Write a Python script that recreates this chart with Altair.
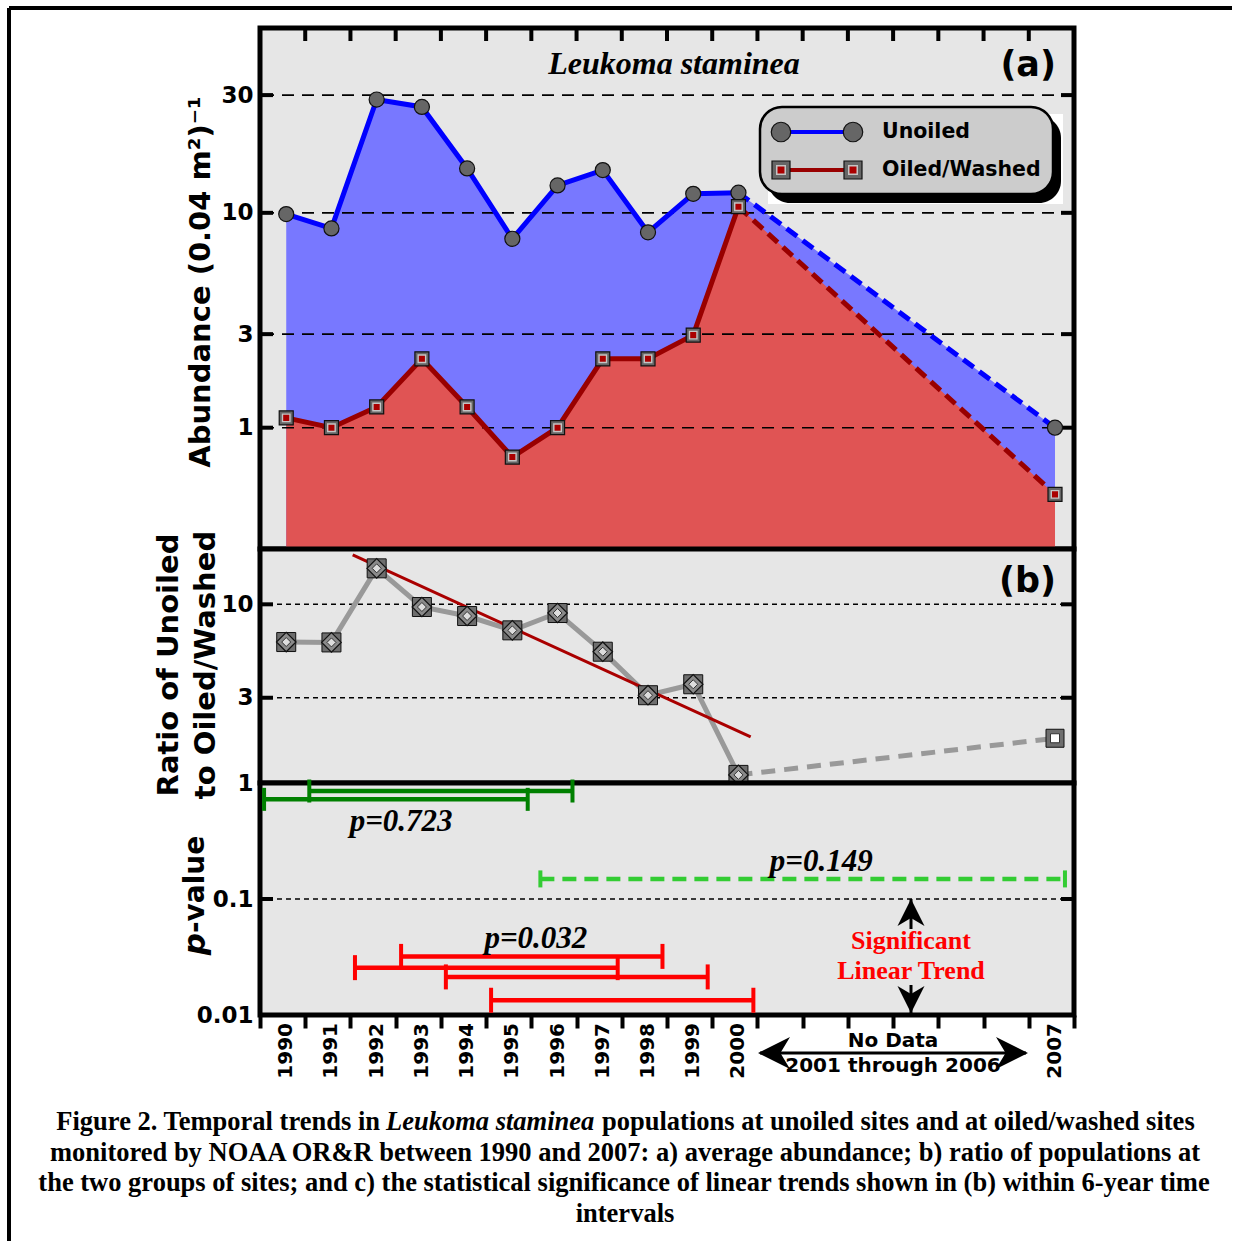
import altair as alt
import pandas as pd

# ------------------------------------------------------------------ data
years = [1990, 1991, 1992, 1993, 1994, 1995, 1996, 1997, 1998, 1999, 2000, 2007]
unoiled = [9.88, 8.62, 28.8, 26.9, 15.2, 7.8, 12.96, 14.96, 8.3, 11.97, 12.1, 1.0]
oiled = [1.14, 1.0, 1.31, 2.3, 1.31, 0.65, 1.0, 2.3, 2.3, 2.97, 10.6, 0.32]
ratio = [6.15, 6.12, 15.9, 9.66, 8.6, 7.15, 8.94, 5.43, 3.1, 3.57, 1.11, 1.78]
trend_year = [1991.47, 2000.27]
trend_ratio = [18.9, 1.81]
win_start = [1989.51, 1990.51, 1995.62, 1991.52, 1992.54, 1993.53, 1994.53]
win_end = [1995.34, 1996.33, 2007.22, 1997.33, 1998.32, 1999.32, 2000.33]
win_p = [0.723, 0.853, 0.149, 0.0256, 0.032, 0.0213, 0.0134]
win_group = ["dark", "dark", "light", "red", "red", "red", "red"]
p_text = ["p=0.723", "p=0.149", "p=0.032"]
p_text_year = [1992.54, 2001.83, 1995.52]
p_text_p = [0.386, 0.174, 0.038]
year_labels = [1990, 1991, 1992, 1993, 1994, 1995, 1996, 1997, 1998, 1999, 2000, 2007]
tick_years = [1989.42, 1990.42, 1991.42, 1992.42, 1993.42, 1994.42, 1995.42,
              1996.42, 1997.42, 1998.42, 1999.42, 2000.42, 2001.42, 2002.42,
              2003.42, 2004.42, 2005.42, 2006.42, 2007.42]
top_ticks = tick_years[1:-1]
abund_ticks = [1, 3, 10, 30]
ratio_ticks = [1, 3, 10]
ratio_grid = [3, 10]
p_ticks = [0.01, 0.1]
p_grid = [0.1]
caption_1a = "Figure 2. Temporal trends in"
caption_1b = "Leukoma staminea"
caption_1c = "populations at unoiled sites and at oiled/washed sites"
caption_2 = "monitored by NOAA OR&R between 1990 and 2007: a) average abundance; b) ratio of populations at"
caption_3 = "the two groups of sites; and c) the statistical significance of linear trends shown in (b) within 6-year time"
caption_4 = "intervals"

# ------------------------------------------------------------------ setup
W, HA, HB, HC = 814, 521, 234, 232
SANS = "DejaVu Sans"
SERIF = "Liberation Serif"
one = pd.DataFrame({"a": [0]})

xs = alt.Scale(domain=[1989.42, 2007.42], nice=False, zero=False)
ya = alt.Scale(type="symlog", constant=0.5, domain=[0, 55.5], nice=False)
yb = alt.Scale(type="log", domain=[1, 20.4], nice=False)
yc = alt.Scale(type="log", domain=[0.01, 1], nice=False)


def yaxis(values):
    return alt.Axis(values=values, ticks=False, tickSize=0, domain=False, grid=False,
                    title=None, labelFont=SANS, labelFontSize=23, labelFontWeight="bold",
                    labelColor="black", labelPadding=7, labelExpr="'' + datum.value")


ax_a, ax_b, ax_c = yaxis(abund_ticks), yaxis(ratio_ticks), yaxis(p_ticks)
ax_x = alt.Axis(values=tick_years, labels=False, ticks=True, tickSize=13, tickWidth=4,
                tickColor="black", domain=False, grid=False, title=None, orient="bottom")


def XN(f):
    return alt.X(f, type="quantitative", scale=xs, axis=None)


def XC(f):
    return alt.X(f, type="quantitative", scale=xs, axis=ax_x)


def YA(f):
    return alt.Y(f, type="quantitative", scale=ya, axis=ax_a)


def YB(f):
    return alt.Y(f, type="quantitative", scale=yb, axis=ax_b)


def YC(f):
    return alt.Y(f, type="quantitative", scale=yc, axis=ax_c)


def text_at(txt, x, y, **kw):
    return alt.Chart(one).mark_text(text=txt, **kw).encode(x=alt.value(x), y=alt.value(y))


def hrule(x1, x2, y, **kw):
    return alt.Chart(one).mark_rule(**kw).encode(x=alt.value(x1), x2=alt.value(x2), y=alt.value(y))


def vrule(x, y1, y2, **kw):
    return alt.Chart(one).mark_rule(**kw).encode(x=alt.value(x), y=alt.value(y1), y2=alt.value(y2))


def rect_at(x1, x2, y1, y2, **kw):
    return alt.Chart(one).mark_rect(**kw).encode(
        x=alt.value(x1), x2=alt.value(x2), y=alt.value(y1), y2=alt.value(y2))


def pt(x, y, **kw):
    return alt.Chart(one).mark_point(filled=True, opacity=1, **kw).encode(
        x=alt.value(x), y=alt.value(y))


bold_sans = dict(font=SANS, fontWeight="bold", color="black")
ARROW = "M0,-1L1,1L0,0.4L-1,1Z"

# ------------------------------------------------------------------ panel (a)
dfa = pd.DataFrame({"year": years, "unoiled": unoiled, "oiled": oiled})
ca = alt.Chart(dfa)
grid_a = alt.Chart(pd.DataFrame({"v": abund_ticks}))
tt = alt.Chart(pd.DataFrame({"t": top_ticks}))

panel_a = alt.layer(
    ca.mark_area(color="#7878ff", opacity=1).encode(x=XN("year"), y=YA("unoiled")),
    ca.mark_area(color="#e05454", opacity=1).encode(x=XN("year"), y=YA("oiled")),
    grid_a.mark_rule(color="black", strokeWidth=1.6, strokeDash=[12, 8]).encode(y=YA("v")),
    grid_a.mark_rule(color="black", strokeWidth=4).encode(y=YA("v"), x=alt.value(0), x2=alt.value(13)),
    grid_a.mark_rule(color="black", strokeWidth=4).encode(y=YA("v"), x=alt.value(W - 13), x2=alt.value(W)),
    tt.mark_rule(color="black", strokeWidth=4).encode(x=XN("t"), y=alt.value(0), y2=alt.value(13)),
    ca.transform_filter("datum.year <= 2000").mark_line(color="#0000ff", strokeWidth=5).encode(
        x=XN("year"), y=YA("unoiled")),
    ca.transform_filter("datum.year >= 2000").mark_line(color="#0000ff", strokeWidth=5,
                                                         strokeDash=[13, 7]).encode(
        x=XN("year"), y=YA("unoiled")),
    ca.transform_filter("datum.year <= 2000").mark_line(color="#990000", strokeWidth=5).encode(
        x=XN("year"), y=YA("oiled")),
    ca.transform_filter("datum.year >= 2000").mark_line(color="#990000", strokeWidth=5,
                                                         strokeDash=[13, 7]).encode(
        x=XN("year"), y=YA("oiled")),
    ca.mark_point(shape="circle", filled=True, size=227, fill="#666666", stroke="#111111",
                  strokeWidth=1.2, opacity=1).encode(x=XN("year"), y=YA("unoiled")),
    ca.mark_point(shape="square", filled=True, size=196, fill="#666666", stroke="#111111",
                  strokeWidth=1.2, opacity=1).encode(x=XN("year"), y=YA("oiled")),
    ca.mark_point(shape="square", filled=True, size=56, fill="#aa0000", stroke="#c4c4c4",
                  strokeWidth=1.4, opacity=1).encode(x=XN("year"), y=YA("oiled")),
    text_at("Leukoma staminea", 414, 46, font=SERIF, fontStyle="italic", fontWeight="bold",
            fontSize=32, align="center", baseline="alphabetic", color="black"),
    text_at("(a)", 796, 37, fontSize=35, align="right", baseline="middle", **bold_sans),
    # legend
    rect_at(508, 803, 86, 176, color="white", opacity=1),
    rect_at(508, 801, 88, 175, color="black", cornerRadius=22, opacity=1),
    rect_at(500, 793, 79, 166, fill="#cccccc", stroke="black", strokeWidth=2.5,
            cornerRadius=22, opacity=1),
    hrule(521, 593, 104, color="#0000ff", strokeWidth=4),
    hrule(521, 593, 142, color="#990000", strokeWidth=4),
    pt(521, 104, shape="circle", size=380, fill="#666666", stroke="#111111", strokeWidth=1.2),
    pt(593, 104, shape="circle", size=380, fill="#666666", stroke="#111111", strokeWidth=1.2),
    pt(521, 142, shape="square", size=324, fill="#666666", stroke="#111111", strokeWidth=1.2),
    pt(593, 142, shape="square", size=324, fill="#666666", stroke="#111111", strokeWidth=1.2),
    pt(521, 142, shape="square", size=72, fill="#aa0000", stroke="#c4c4c4", strokeWidth=1.5),
    pt(593, 142, shape="square", size=72, fill="#aa0000", stroke="#c4c4c4", strokeWidth=1.5),
    text_at("Unoiled", 622, 104, fontSize=20.5, align="left", baseline="middle", **bold_sans),
    text_at("Oiled/Washed", 622, 142, fontSize=20.5, align="left", baseline="middle", **bold_sans),
    # axis title
    text_at("Abundance (0.04 m\u00b2)\u207b\u00b9", -59, 254, angle=270, fontSize=29,
            align="center", baseline="middle", **bold_sans),
    # outer frame
    hrule(-251, 972, -20, color="black", strokeWidth=4),
    vrule(-251, -20, HA, color="black", strokeWidth=4),
).properties(width=W, height=HA)

# ------------------------------------------------------------------ panel (b)
dfb = pd.DataFrame({"year": years, "ratio": ratio})
cb = alt.Chart(dfb)
grid_b = alt.Chart(pd.DataFrame({"v": ratio_grid}))
dft = pd.DataFrame({"year": trend_year, "ratio": trend_ratio})

panel_b = alt.layer(
    grid_b.mark_rule(color="black", strokeWidth=1.4, strokeDash=[5, 4]).encode(y=YB("v")),
    grid_b.mark_rule(color="black", strokeWidth=4).encode(y=YB("v"), x=alt.value(0), x2=alt.value(13)),
    grid_b.mark_rule(color="black", strokeWidth=4).encode(y=YB("v"), x=alt.value(W - 13), x2=alt.value(W)),
    cb.transform_filter("datum.year <= 2000").mark_line(color="#999999", strokeWidth=5).encode(
        x=XN("year"), y=YB("ratio")),
    cb.transform_filter("datum.year >= 2000").mark_line(color="#999999", strokeWidth=5,
                                                         strokeDash=[14, 9]).encode(
        x=XN("year"), y=YB("ratio")),
    alt.Chart(dft).mark_line(color="#aa0000", strokeWidth=3).encode(x=XN("year"), y=YB("ratio")),
    cb.transform_filter("datum.year <= 2000").mark_point(
        shape="square", filled=True, size=361, fill="#6e6e6e", stroke="#111111",
        strokeWidth=1, opacity=1).encode(x=XN("year"), y=YB("ratio")),
    cb.transform_filter("datum.year <= 2000").mark_point(
        shape="diamond", filled=True, size=380, fill="#8a8a8a", stroke="#111111",
        strokeWidth=1.2, opacity=1).encode(x=XN("year"), y=YB("ratio")),
    cb.transform_filter("datum.year <= 2000").mark_point(
        shape="diamond", filled=True, size=81, fill="#dddddd", stroke="#333333",
        strokeWidth=1, opacity=1).encode(x=XN("year"), y=YB("ratio")),
    cb.transform_filter("datum.year > 2000").mark_point(
        shape="square", filled=True, size=324, fill="#6e6e6e", stroke="#111111",
        strokeWidth=1, opacity=1).encode(x=XN("year"), y=YB("ratio")),
    cb.transform_filter("datum.year > 2000").mark_point(
        shape="square", filled=True, size=81, fill="#ffffff", stroke="#333333",
        strokeWidth=1, opacity=1).encode(x=XN("year"), y=YB("ratio")),
    text_at("(b)", 796, 32, fontSize=35, align="right", baseline="middle", **bold_sans),
    text_at("Ratio of Unoiled", -91, 116, angle=270, fontSize=29, align="center",
            baseline="middle", **bold_sans),
    text_at("to Oiled/Washed", -54, 116, angle=270, fontSize=29, align="center",
            baseline="middle", **bold_sans),
    vrule(-251, 0, HB, color="black", strokeWidth=4),
).properties(width=W, height=HB)

# ------------------------------------------------------------------ panel (c)
dfc = pd.DataFrame({"start": win_start, "end": win_end, "p": win_p, "grp": win_group})
cc = alt.Chart(dfc)
grid_c = alt.Chart(pd.DataFrame({"v": p_grid}))
dfp = pd.DataFrame({"x": p_text_year, "y": p_text_p, "t": p_text})


def windows(grp, color, cap, dash=None):
    kw = {"strokeDash": dash} if dash else {}
    sub = cc.transform_filter(f"datum.grp == '{grp}'")
    return [
        sub.mark_rule(color=color, strokeWidth=4.5, **kw).encode(
            x=XC("start"), x2=alt.X2("end"), y=YC("p")),
        sub.mark_tick(orient="vertical", size=cap, thickness=4, color=color, opacity=1).encode(
            x=XC("start"), y=YC("p")),
        sub.mark_tick(orient="vertical", size=cap, thickness=4, color=color, opacity=1).encode(
            x=XC("end"), y=YC("p")),
    ]


serif_bold = dict(font=SERIF, fontWeight="bold")

panel_c = alt.layer(
    grid_c.mark_rule(color="black", strokeWidth=1.4, strokeDash=[5, 4]).encode(y=YC("v")),
    grid_c.mark_rule(color="black", strokeWidth=4).encode(y=YC("v"), x=alt.value(0), x2=alt.value(13)),
    grid_c.mark_rule(color="black", strokeWidth=4).encode(y=YC("v"), x=alt.value(W - 13), x2=alt.value(W)),
    *windows("dark", "#008000", 23),
    *windows("light", "#33cc33", 17, [14, 8]),
    *windows("red", "#ff0000", 25),
    alt.Chart(dfp).mark_text(font=SERIF, fontStyle="italic", fontWeight="bold", fontSize=31,
                             align="center", baseline="alphabetic", color="black").encode(
        x=XC("x"), y=YC("y"), text="t:N"),
    text_at("Significant", 651, 166, fontSize=26, align="center", baseline="alphabetic",
            color="#ff0000", **serif_bold),
    text_at("Linear Trend", 651, 196, fontSize=26, align="center", baseline="alphabetic",
            color="#ff0000", **serif_bold),
    vrule(651, 116, 146, color="black", strokeWidth=3),
    pt(651, 129.5, shape=ARROW, size=729, color="black"),
    vrule(651, 202, 230, color="black", strokeWidth=3),
    pt(651, 216.5, shape=ARROW, size=729, color="black", angle=180),
    alt.Chart(pd.DataFrame({"year": year_labels})).mark_text(
        angle=270, align="right", baseline="middle", fontSize=20, **bold_sans).encode(
        x=XC("year"), y=alt.value(HC + 8), text=alt.Text("year:Q", format="d")),
    hrule(500, 766, 270, color="black", strokeWidth=3),
    pt(514, 270, shape=ARROW, size=1024, color="black", angle=270),
    pt(752, 270, shape=ARROW, size=1024, color="black", angle=90),
    text_at("No Data", 633, 258, fontSize=20, align="center", baseline="middle", **bold_sans),
    text_at("2001 through 2006", 633, 283, fontSize=20, align="center", baseline="middle",
            **bold_sans),
    text_at("-value", -64, 150, angle=270, fontSize=28, align="left", baseline="middle",
            **bold_sans),
    text_at("p", -64, 150, angle=270, fontSize=31, align="right", baseline="middle",
            font=SANS, fontWeight="bold", fontStyle="italic", color="black"),
    text_at(caption_1a, 120, 347, fontSize=26.5, align="right", baseline="alphabetic",
            color="black", **serif_bold),
    text_at(caption_1b, 126, 347, fontSize=26.5, align="left", baseline="alphabetic",
            color="black", fontStyle="italic", **serif_bold),
    text_at(caption_1c, 342, 347, fontSize=26.5, align="left", baseline="alphabetic",
            color="black", **serif_bold),
    text_at(caption_2, 365, 378, fontSize=26.5, align="center", baseline="alphabetic",
            color="black", **serif_bold),
    text_at(caption_3, 364, 408, fontSize=26.5, align="center", baseline="alphabetic",
            color="black", **serif_bold),
    text_at(caption_4, 365, 439, fontSize=26.5, align="center", baseline="alphabetic",
            color="black", **serif_bold),
    vrule(-251, 0, 458, color="black", strokeWidth=4),
).properties(width=W, height=HC)

chart = alt.vconcat(panel_a, panel_b, panel_c, spacing=0, bounds="flush").properties(
    padding={"left": 4, "top": 3, "right": 0, "bottom": 0}, background="white"
).configure_view(stroke="black", strokeWidth=5, fill="#e6e6e6")

chart.save("out.html", embed_options={"renderer": "svg", "actions": False})
